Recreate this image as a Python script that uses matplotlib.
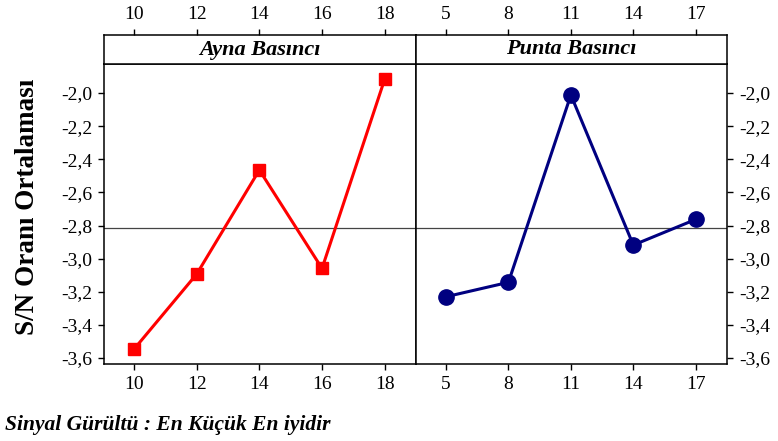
import numpy as np
import matplotlib
matplotlib.use('Agg')
import matplotlib.pyplot as plt
from matplotlib.ticker import FuncFormatter

plt.rcParams['font.family'] = ['Liberation Serif', 'DejaVu Serif']

# Faktör seviyeleri ve S/N oranı ortalamaları
ayna_seviye = ['10', '12', '14', '16', '18']
ayna_sn = [-3.546, -3.093, -2.465, -3.059, -1.917]
punta_seviye = ['5', '8', '11', '14', '17']
punta_sn = [-3.230, -3.143, -2.012, -2.918, -2.763]

genel_ort = np.mean(ayna_sn + punta_sn)

W, H = 778, 441
fig = plt.figure(figsize=(W / 100, H / 100), dpi=100)


def kutu(x0, x1, y0, y1):
    return [x0 / W, 1 - y1 / H, (x1 - x0) / W, (y1 - y0) / H]


virgul = FuncFormatter(lambda v, p: ('%.1f' % v).replace('.', ','))
yticks = np.arange(-3.6, -1.99, 0.2)

paneller = [
    ('Ayna Basıncı', ayna_seviye, ayna_sn, 'red', 's', 9, 104, 416, 'left'),
    ('Punta Basıncı', punta_seviye, punta_sn, '#000080', 'o', 11, 416, 727, 'right'),
]

for baslik, seviye, deger, renk, isaret, boy, x0, x1, taraf in paneller:
    ax = fig.add_axes(kutu(x0, x1, 64, 364))
    konum = np.arange(len(seviye))
    ax.plot(konum, deger, color=renk, lw=2.2, marker=isaret, ms=boy,
            mfc=renk, mec=renk, zorder=3)
    ax.axhline(genel_ort, color='#444444', lw=0.9, zorder=2)
    ax.set_xlim(-0.48, 4.5)
    ax.set_ylim(-3.636, -1.825)
    ax.set_xticks(konum)
    ax.set_xticklabels(seviye)
    ax.set_yticks(yticks)
    ax.yaxis.set_major_formatter(virgul)
    ax.tick_params(axis='both', direction='out', length=4.5, width=1,
                   labelsize=14, pad=4)
    if taraf == 'left':
        ax.tick_params(axis='y', left=True, right=False, labelleft=True, labelright=False)
    else:
        ax.tick_params(axis='y', left=False, right=True, labelleft=False, labelright=True)
    for s in ax.spines.values():
        s.set_linewidth(1.1)

    # üst başlık şeridi
    st = fig.add_axes(kutu(x0, x1, 35, 64))
    st.set_xlim(-0.48, 4.5)
    st.set_ylim(0, 1)
    st.set_xticks(konum)
    st.set_xticklabels(seviye)
    st.set_yticks([])
    st.tick_params(axis='x', top=True, bottom=False, labeltop=True,
                   labelbottom=False, direction='out', length=4.5, width=1,
                   labelsize=14, pad=4)
    for s in st.spines.values():
        s.set_linewidth(1.1)
    st.text(0.5, 0.5, baslik, transform=st.transAxes, ha='center', va='center',
            fontsize=16, fontweight='bold', fontstyle='italic')

fig.text(27 / W, 1 - 207 / H, 'S/N Oranı Ortalaması', rotation=90,
         ha='center', va='center', fontsize=19.5, fontweight='bold')
fig.text(5 / W, 1 - 425 / H, 'Sinyal Gürültü : En Küçük En iyidir',
         ha='left', va='center', fontsize=15.5, fontweight='bold',
         fontstyle='italic')

fig.savefig('out.png', dpi=100)
